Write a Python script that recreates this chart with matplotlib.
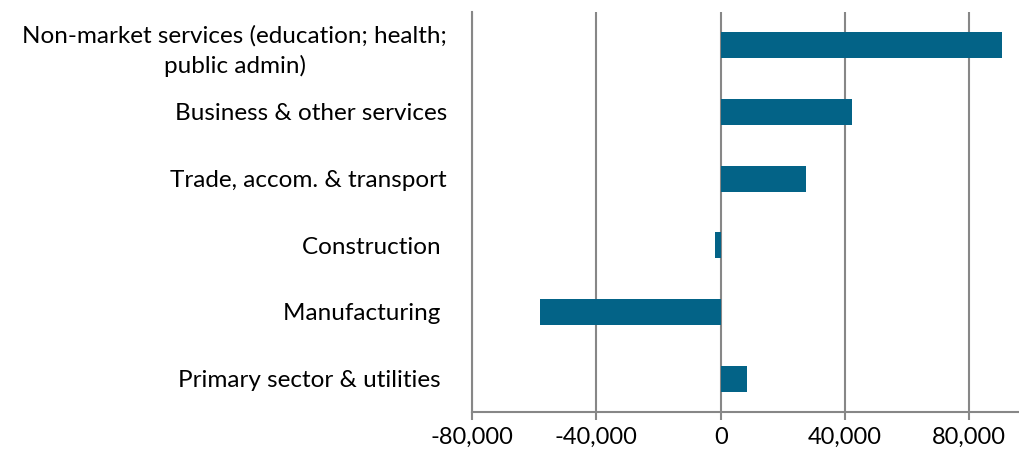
import numpy as np
import matplotlib
matplotlib.use("Agg")
import matplotlib.pyplot as plt
from matplotlib.ticker import FuncFormatter

plt.rcParams['font.family'] = ['Lato', 'DejaVu Sans']

# data (top to bottom as shown)
sectors = [
    "Non-market services (education; health;\npublic admin)",
    "Business & other services",
    "Trade, accom. & transport",
    "Construction ",
    "Manufacturing ",
    "Primary sector & utilities ",
]
change = [90400, 42300, 27400, -1700, -58000, 8400]
ticks = [-80000, -40000, 0, 40000, 80000]

bar_color = "#036387"
grid_color = "#878787"

fig = plt.figure(figsize=(10.2, 4.59), dpi=100)
ax = fig.add_axes([0.4627, 0.1024, 0.5373, 0.8715])

y = np.arange(len(sectors))[::-1]
ax.barh(y, change, height=0.39, color=bar_color, zorder=3)

ax.set_xlim(-80000, 96300)
ax.set_ylim(-0.5, len(sectors) - 0.5)
ax.set_xticks(ticks)
ax.xaxis.set_major_formatter(FuncFormatter(lambda v, p: f"{v:,.0f}"))
ax.set_yticks(y)
ax.set_yticklabels(sectors, multialignment="center", linespacing=1.45)

ax.grid(axis="x", color=grid_color, linewidth=1.5, zorder=0)
ax.grid(axis="y", visible=False)

for s in ["top", "right"]:
    ax.spines[s].set_visible(False)
for s in ["left", "bottom"]:
    ax.spines[s].set_color(grid_color)
    ax.spines[s].set_linewidth(1.5)

ax.tick_params(axis="x", colors=grid_color, width=1.5, length=6,
               labelcolor="black", labelsize=17, pad=5)
ax.tick_params(axis="y", length=0, labelsize=17.5, pad=18)

fig.savefig("out.png", dpi=100)
